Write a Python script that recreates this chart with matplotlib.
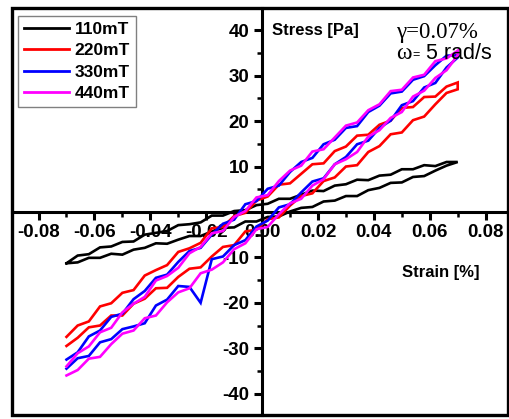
import matplotlib
matplotlib.use("Agg")
import matplotlib.pyplot as plt
from matplotlib.patches import Rectangle
from matplotlib.ticker import MultipleLocator

# ---- data ----
strain = [-0.070, -0.066, -0.062, -0.058, -0.054, -0.050, -0.046, -0.042, -0.038,
          -0.034, -0.030, -0.026, -0.022, -0.018, -0.014, -0.010, -0.006, -0.002,
          0.002, 0.006, 0.010, 0.014, 0.018, 0.022, 0.026, 0.030, 0.034, 0.038,
          0.042, 0.046, 0.050, 0.054, 0.058, 0.062, 0.066, 0.070]

# increasing-strain branch (upper) and decreasing-strain branch (lower), both listed
# in order of increasing strain
b110_up = [-11.3, -9.6, -9.3, -7.8, -7.6, -6.6, -6.5, -5.0, -4.6, -4.2, -2.9, -2.7,
           -2.3, -0.8, -0.8, 0.2, 0.4, 1.5, 1.8, 2.9, 2.9, 3.8, 4.7, 4.6, 5.8, 6.1,
           7.1, 7.0, 8.0, 8.2, 9.4, 9.4, 10.3, 10.1, 11.0, 11.0]
b110_dn = [-11.3, -11.1, -10.1, -10.1, -9.2, -9.4, -8.3, -7.9, -6.9, -7.0, -6.1, -5.3,
           -5.3, -4.3, -3.5, -3.4, -2.1, -2.1, -1.1, -1.0, 0.1, 0.9, 1.1, 2.3, 2.5, 3.5,
           3.5, 4.8, 5.3, 6.4, 6.5, 7.7, 7.9, 9.1, 10.2, 11.0]

b220_up = [-27.5, -25.0, -24.1, -20.8, -20.1, -17.8, -17.2, -14.0, -12.8, -11.7, -8.8,
           -8.0, -6.8, -3.6, -3.3, -0.9, -0.2, 2.5, 3.4, 6.0, 6.3, 8.4, 10.5, 10.7, 13.4,
           14.4, 16.8, 17.0, 19.2, 20.1, 22.9, 23.1, 25.3, 25.4, 27.6, 28.5]
b220_dn = [-29.5, -27.7, -25.4, -25.0, -22.8, -22.8, -20.2, -19.1, -16.8, -16.7, -14.3,
           -12.5, -12.2, -9.8, -7.7, -7.3, -4.3, -3.9, -1.6, -1.2, 1.4, 3.5, 4.1, 6.8,
           7.6, 10.0, 10.3, 13.2, 14.5, 17.1, 17.5, 20.2, 21.0, 23.7, 26.2, 27.0]

b330_up = [-32.5, -30.9, -27.4, -26.1, -23.1, -22.4, -19.2, -17.4, -14.5, -13.8, -11.0,
           -8.6, -7.9, -5.0, -2.6, -1.7, 1.7, 2.4, 5.1, 5.8, 8.8, 11.0, 11.9, 14.9, 15.9,
           18.5, 18.9, 22.0, 23.4, 26.1, 26.5, 29.1, 29.9, 32.3, 34.4, 34.5]
b330_dn = [-34.5, -32.2, -31.7, -28.7, -28.0, -25.8, -25.2, -24.5, -20.6, -19.3, -16.3,
           -16.5, -20.0, -10.4, -9.8, -7.3, -6.2, -3.2, -1.9, 1.0, 1.7, 4.3, 6.7, 7.4,
           10.5, 12.1, 14.9, 15.7, 18.5, 20.1, 23.5, 24.4, 27.4, 28.4, 31.8, 34.0]

b440_up = [-34.0, -31.1, -29.6, -26.5, -25.5, -22.1, -20.2, -18.7, -15.1, -14.1, -12.3,
           -9.1, -7.7, -4.7, -4.2, -1.1, 0.2, 3.2, 3.7, 6.8, 9.1, 10.2, 13.3, 13.8, 16.4,
           19.0, 19.7, 22.4, 23.7, 26.6, 26.9, 29.6, 30.2, 33.2, 33.8, 35.5]
b440_dn = [-36.0, -34.8, -32.3, -31.9, -29.1, -26.8, -26.1, -23.4, -22.8, -19.9, -17.7,
           -16.8, -13.5, -12.7, -11.1, -8.2, -6.9, -3.8, -3.3, -0.5, 1.9, 2.9, 5.8, 7.2,
           10.5, 11.6, 13.2, 16.6, 18.0, 20.7, 22.0, 25.4, 26.7, 29.5, 31.2, 34.5]

labels = ["110mT", "220mT", "330mT", "440mT"]
colors = ["black", "#ff0000", "#0000ff", "#ff00ff"]
series = [(b110_up, b110_dn), (b220_up, b220_dn), (b330_up, b330_dn), (b440_up, b440_dn)]

xticks = [-0.08, -0.06, -0.04, -0.02, 0.00, 0.02, 0.04, 0.06, 0.08]
xticklabels = ["-0.08", "-0.06", "-0.04", "-0.02", "0.00", "0.02", "0.04", "0.06", "0.08"]
yticks = [-40, -30, -20, -10, 10, 20, 30, 40]
yticklabels = ["-40", "-30", "-20", "-10", "10", "20", "30", "40"]

# ---- figure ----
W, H = 510, 419
fig = plt.figure(figsize=(W / 100, H / 100), dpi=100)
ax = fig.add_axes([12 / W, 4 / H, 496 / W, 407 / H])
ax.set_xlim(-0.0895, 0.088)
ax.set_ylim(-44.7, 44.9)

for (up, dn), c, lab in zip(series, colors, labels):
    xs = list(strain) + list(reversed(strain))
    ys = list(up) + list(reversed(dn))
    ax.plot(xs, ys, color=c, lw=1.9, label=lab, zorder=3, solid_joinstyle="miter")

for side in ["top", "right"]:
    ax.spines[side].set_visible(False)
for side in ["left", "bottom"]:
    ax.spines[side].set_position("zero")
    ax.spines[side].set_linewidth(2.2)

ax.set_xticks(xticks)
ax.set_xticklabels(xticklabels)
ax.set_yticks(yticks)
ax.set_yticklabels(yticklabels)
ax.xaxis.set_minor_locator(MultipleLocator(0.01))
ax.yaxis.set_minor_locator(MultipleLocator(5))
ax.tick_params(which="major", direction="out", length=6, width=2.2, pad=3)
ax.tick_params(which="minor", direction="out", length=3.5, width=1.8)
for lbl in ax.get_xticklabels() + ax.get_yticklabels():
    lbl.set_fontfamily("Liberation Sans")
    lbl.set_fontweight("bold")
    lbl.set_fontsize(13.5)

# outer frame
ax.add_patch(Rectangle((0, 0), 1, 1, transform=ax.transAxes, fill=False,
                       lw=2.4, edgecolor="black", clip_on=False, zorder=5))

# annotations
ft = fig.transFigure
ax.text(272 / W, 1 - 30 / H, "Stress [Pa]", transform=ft,
        fontfamily="Liberation Sans", fontweight="bold", fontsize=12,
        ha="left", va="center")
ax.text(441 / W, 1 - 273 / H, "Strain [%]", transform=ft,
        fontfamily="Liberation Sans", fontweight="bold", fontsize=12,
        ha="center", va="center")
ax.text(396 / W, 1 - 38 / H, "γ=0.07%", transform=ft,
        fontfamily="Liberation Serif", fontsize=16.5, ha="left", va="baseline")
ax.text(396 / W, 1 - 59 / H, "ω", transform=ft,
        fontfamily="Liberation Serif", fontsize=17, ha="left", va="baseline")
ax.text(412 / W, 1 - 58 / H, "=", transform=ft,
        fontfamily="Liberation Sans", fontsize=9, ha="left", va="baseline")
ax.text(426 / W, 1 - 59 / H, "5 rad/s", transform=ft,
        fontfamily="Liberation Sans", fontsize=15.5, ha="left", va="baseline")

leg = ax.legend(loc="upper left", bbox_to_anchor=(18 / W, 1 - 16 / H),
                bbox_transform=ft, borderaxespad=0, fancybox=False,
                framealpha=1, edgecolor="#808080", handlelength=2.6,
                handletextpad=0.3, labelspacing=0.35, borderpad=0.35,
                prop={"family": "Liberation Sans", "weight": "bold", "size": 12.5})
leg.get_frame().set_linewidth(1.0)
for h in leg.get_lines():
    h.set_linewidth(2.0)

fig.savefig("out.png", dpi=100)
